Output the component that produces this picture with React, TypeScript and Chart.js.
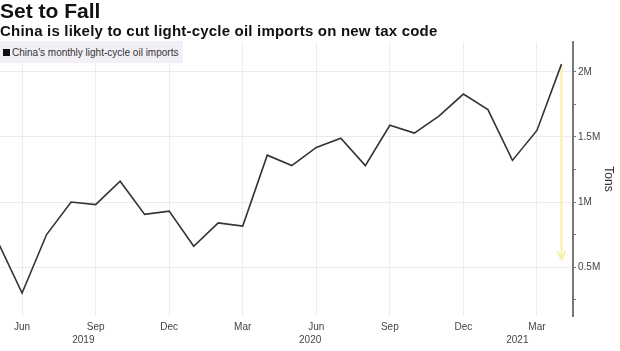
import React, { useEffect, useRef } from 'react';
import { Chart, registerables } from 'chart.js';

Chart.register(...registerables);

// Months of the series (May 2019 .. Apr 2021)
const months = [
  '2019-05', '2019-06', '2019-07', '2019-08', '2019-09', '2019-10', '2019-11', '2019-12',
  '2020-01', '2020-02', '2020-03', '2020-04', '2020-05', '2020-06', '2020-07', '2020-08',
  '2020-09', '2020-10', '2020-11', '2020-12', '2021-01', '2021-02', '2021-03', '2021-04',
];
const monthNames = ['Jan', 'Feb', 'Mar', 'Apr', 'May', 'Jun', 'Jul', 'Aug', 'Sep', 'Oct', 'Nov', 'Dec'];
// China's monthly light-cycle oil imports, tons
const imports = [
  700000, 300000, 750000, 1000000, 980000, 1160000, 905000, 930000,
  660000, 840000, 815000, 1360000, 1280000, 1420000, 1490000, 1280000,
  1590000, 1530000, 1660000, 1830000, 1710000, 1320000, 1550000, 2060000,
];
const quarterMonths = [3, 6, 9, 12];
const yTickValues = [250000, 500000, 750000, 1000000, 1250000, 1500000, 1750000, 2000000];
const yLabelStep = 500000;
const yearLabels = ['2019', '2020', '2021'];
const yearLabelAt = [3.5, 12.75, 21.2]; // in month-index units
const arrowMonth = '2021-04';
const arrowFrom = 2060000;
const arrowTo = 560000;

const FONT = "'Liberation Sans', Arial, sans-serif";

const yearPlugin = {
  id: 'yearLabels',
  afterDraw(chart: any) {
    const { ctx, chartArea, scales } = chart;
    ctx.save();
    ctx.font = `10px ${FONT}`;
    ctx.fillStyle = '#444';
    ctx.textAlign = 'center';
    ctx.textBaseline = 'middle';
    yearLabels.forEach((t, i) => {
      ctx.fillText(t, scales.x.getPixelForValue(yearLabelAt[i]), chartArea.bottom + 24);
    });
    ctx.restore();
  },
};

const arrowPlugin = {
  id: 'arrow',
  beforeDatasetsDraw(chart: any) {
    const { ctx, scales } = chart;
    const xi = months.indexOf(arrowMonth);
    const x = scales.x.getPixelForValue(xi);
    const y1 = scales.y.getPixelForValue(arrowFrom);
    const y2 = scales.y.getPixelForValue(arrowTo);
    ctx.save();
    ctx.strokeStyle = '#f7efa8';
    ctx.lineWidth = 2;
    ctx.beginPath();
    ctx.moveTo(x, y1);
    ctx.lineTo(x, y2);
    ctx.moveTo(x - 4, y2 - 8);
    ctx.lineTo(x, y2);
    ctx.lineTo(x + 4, y2 - 8);
    ctx.stroke();
    ctx.restore();
  },
};

function fmt(v: number) {
  return `${v / 1000000}M`;
}

export default function App() {
  const ref = useRef<HTMLCanvasElement>(null);
  useEffect(() => {
    document.body.style.margin = '0';
    const chart = new Chart(ref.current!, {
      type: 'line',
      data: {
        datasets: [
          {
            label: "China's monthly light-cycle oil imports",
            data: imports.map((v, i) => ({ x: i, y: v })),
            borderColor: '#333',
            borderWidth: 1.6,
            pointRadius: 0,
            tension: 0,
          },
        ],
      },
      options: {
        animation: false,
        responsive: false,
        maintainAspectRatio: false,
        layout: { padding: { left: 0, right: 0, top: 42, bottom: 13 } },
        plugins: { legend: { display: false }, tooltip: { enabled: false } },
        scales: {
          x: {
            type: 'linear',
            min: 0.1,
            max: 23.47,
            afterBuildTicks: (s: any) => {
              s.ticks = months
                .map((m, i) => ({ value: i, mo: Number(m.slice(5)) }))
                .filter((t) => quarterMonths.includes(t.mo))
                .map((t) => ({ value: t.value }));
            },
            ticks: {
              callback: (v: any) => monthNames[Number(months[v].slice(5)) - 1],
              font: { size: 10, family: FONT },
              color: '#444',
              padding: 5,
              maxRotation: 0,
              autoSkip: false,
            },
            grid: { color: '#ecebf2', drawTicks: false, lineWidth: 1 },
            border: { display: false },
          },
          y: {
            position: 'right',
            min: 124000,
            max: 2230000,
            afterBuildTicks: (s: any) => {
              s.ticks = yTickValues.map((v) => ({ value: v }));
            },
            afterFit: (s: any) => {
              s.width = 47;
            },
            ticks: {
              callback: (v: any) => (v % yLabelStep === 0 ? fmt(v) : ''),
              font: { size: 10, family: FONT },
              color: '#444',
              padding: 2,
              autoSkip: false,
            },
            grid: {
              color: (c: any) => (c.tick && c.tick.value % yLabelStep === 0 ? '#ecebf2' : 'rgba(0,0,0,0)'),
              tickColor: '#777',
              tickLength: 3,
            },
            border: { color: '#777', width: 2 },
            title: {
              display: true,
              text: 'Tons',
              font: { size: 12, family: FONT },
              color: '#333',
              padding: { top: 4, bottom: 0 },
            },
          },
        },
      },
      plugins: [yearPlugin, arrowPlugin],
    } as any);
    return () => chart.destroy();
  }, []);

  return (
    <div style={{ position: 'fixed', left: 0, top: 0, width: 620, height: 351, background: '#fff', fontFamily: FONT }}>
      <div style={{ position: 'absolute', left: 0, top: 0, fontSize: 21, fontWeight: 'bold', color: '#111', lineHeight: '21px', whiteSpace: 'nowrap' }}>
        Set to Fall
      </div>
      <div style={{ position: 'absolute', left: 0, top: 22, fontSize: 15, fontWeight: 'bold', color: '#111', lineHeight: '17px', letterSpacing: 0.2, whiteSpace: 'nowrap' }}>
        China is likely to cut light-cycle oil imports on new tax code
      </div>
      <canvas ref={ref} width={620} height={351} style={{ position: 'absolute', left: 0, top: 0 }} />
      <div style={{ position: 'absolute', left: 0, top: 41, width: 183, height: 22, background: '#f2f0f6', fontSize: 10, color: '#333', display: 'flex', alignItems: 'center', whiteSpace: 'nowrap' }}>
        <span style={{ display: 'inline-block', width: 7, height: 7, background: '#111', marginLeft: 3, marginRight: 2 }} />
        China's monthly light-cycle oil imports
      </div>
    </div>
  );
}
